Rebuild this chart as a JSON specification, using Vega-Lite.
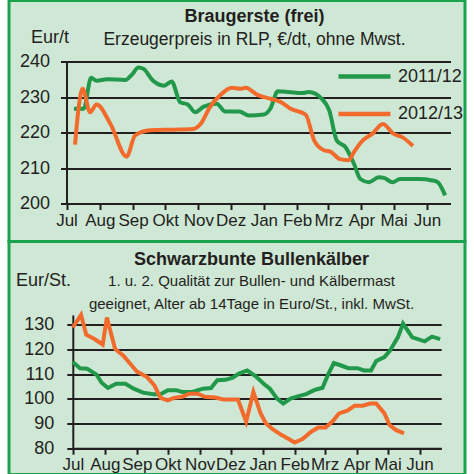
{
  "$schema": "https://vega.github.io/schema/vega-lite/v6.json",
  "background": "white",
  "padding": {"left": 7, "top": -1.5, "right": 8, "bottom": -1.5},
  "spacing": 0,
  "bounds": "flush",
  "config": {
    "font": "Liberation Sans",
    "view": {"fill": "#cfe7d5", "stroke": "#1ba24f", "strokeWidth": 3},
    "axis": {"labelColor": "#231f20", "titleColor": "#231f20", "domainColor": "#231f20", "domainWidth": 2, "tickColor": "#231f20", "tickWidth": 2, "gridColor": "#231f20", "gridWidth": 1.8, "labelFont": "Liberation Sans", "titleFont": "Liberation Sans"},
    "legend": {"labelColor": "#231f20", "labelFont": "Liberation Sans", "padding": 0},
    "title": {"color": "#231f20", "subtitleColor": "#231f20", "font": "Liberation Sans", "subtitleFont": "Liberation Sans"}
  },
  "datasets": {
    "braugerste": [
      {"date": "2011-07-08T00:00", "value": 226.7, "season": "2011/12"},
      {"date": "2011-07-17T00:00", "value": 226.7, "season": "2011/12"},
      {"date": "2011-07-24T00:00", "value": 235.4, "season": "2011/12"},
      {"date": "2011-07-29T00:00", "value": 234.6, "season": "2011/12"},
      {"date": "2011-08-08T00:00", "value": 235.0, "season": "2011/12"},
      {"date": "2011-08-25T00:00", "value": 234.8, "season": "2011/12"},
      {"date": "2011-08-31T00:00", "value": 236.3, "season": "2011/12"},
      {"date": "2011-09-06T00:00", "value": 238.3, "season": "2011/12"},
      {"date": "2011-09-11T00:00", "value": 237.9, "season": "2011/12"},
      {"date": "2011-09-19T00:00", "value": 234.8, "season": "2011/12"},
      {"date": "2011-09-30T00:00", "value": 233.2, "season": "2011/12"},
      {"date": "2011-10-07T00:00", "value": 234.4, "season": "2011/12"},
      {"date": "2011-10-15T00:00", "value": 228.5, "season": "2011/12"},
      {"date": "2011-10-22T00:00", "value": 227.9, "season": "2011/12"},
      {"date": "2011-10-29T00:00", "value": 225.7, "season": "2011/12"},
      {"date": "2011-11-06T00:00", "value": 227.3, "season": "2011/12"},
      {"date": "2011-11-18T00:00", "value": 228.1, "season": "2011/12"},
      {"date": "2011-11-26T00:00", "value": 225.9, "season": "2011/12"},
      {"date": "2011-12-09T00:00", "value": 225.9, "season": "2011/12"},
      {"date": "2011-12-18T00:00", "value": 224.8, "season": "2011/12"},
      {"date": "2012-01-01T00:00", "value": 225.1, "season": "2011/12"},
      {"date": "2012-01-07T00:00", "value": 226.7, "season": "2011/12"},
      {"date": "2012-01-14T00:00", "value": 231.6, "season": "2011/12"},
      {"date": "2012-01-24T00:00", "value": 231.4, "season": "2011/12"},
      {"date": "2012-02-06T00:00", "value": 231.1, "season": "2011/12"},
      {"date": "2012-02-12T00:00", "value": 231.4, "season": "2011/12"},
      {"date": "2012-02-24T00:00", "value": 229.5, "season": "2011/12"},
      {"date": "2012-03-02T00:00", "value": 226.2, "season": "2011/12"},
      {"date": "2012-03-09T00:00", "value": 217.7, "season": "2011/12"},
      {"date": "2012-03-17T00:00", "value": 215.9, "season": "2011/12"},
      {"date": "2012-03-25T00:00", "value": 211.2, "season": "2011/12"},
      {"date": "2012-03-31T00:00", "value": 206.9, "season": "2011/12"},
      {"date": "2012-04-08T00:00", "value": 206.0, "season": "2011/12"},
      {"date": "2012-04-17T00:00", "value": 207.4, "season": "2011/12"},
      {"date": "2012-04-22T00:00", "value": 207.2, "season": "2011/12"},
      {"date": "2012-04-30T00:00", "value": 206.0, "season": "2011/12"},
      {"date": "2012-05-07T00:00", "value": 206.9, "season": "2011/12"},
      {"date": "2012-05-24T00:00", "value": 206.9, "season": "2011/12"},
      {"date": "2012-06-06T00:00", "value": 206.5, "season": "2011/12"},
      {"date": "2012-06-11T00:00", "value": 206.0, "season": "2011/12"},
      {"date": "2012-06-18T00:00", "value": 202.3, "season": "2011/12"},
      {"date": "2011-07-09T00:00", "value": 216.6, "season": "2012/13"},
      {"date": "2011-07-12T00:00", "value": 226.2, "season": "2012/13"},
      {"date": "2011-07-16T00:00", "value": 232.3, "season": "2012/13"},
      {"date": "2011-07-23T00:00", "value": 225.7, "season": "2012/13"},
      {"date": "2011-07-29T00:00", "value": 227.9, "season": "2012/13"},
      {"date": "2011-08-11T00:00", "value": 222.4, "season": "2012/13"},
      {"date": "2011-08-26T00:00", "value": 213.2, "season": "2012/13"},
      {"date": "2011-09-03T00:00", "value": 219.2, "season": "2012/13"},
      {"date": "2011-09-17T00:00", "value": 220.6, "season": "2012/13"},
      {"date": "2011-10-09T00:00", "value": 220.8, "season": "2012/13"},
      {"date": "2011-10-27T00:00", "value": 221.0, "season": "2012/13"},
      {"date": "2011-11-03T00:00", "value": 222.4, "season": "2012/13"},
      {"date": "2011-11-12T00:00", "value": 227.3, "season": "2012/13"},
      {"date": "2011-11-21T00:00", "value": 230.4, "season": "2012/13"},
      {"date": "2011-12-02T00:00", "value": 232.6, "season": "2012/13"},
      {"date": "2011-12-10T00:00", "value": 232.3, "season": "2012/13"},
      {"date": "2011-12-15T00:00", "value": 232.6, "season": "2012/13"},
      {"date": "2011-12-26T00:00", "value": 230.6, "season": "2012/13"},
      {"date": "2012-01-07T00:00", "value": 229.5, "season": "2012/13"},
      {"date": "2012-01-16T00:00", "value": 228.7, "season": "2012/13"},
      {"date": "2012-01-26T00:00", "value": 226.7, "season": "2012/13"},
      {"date": "2012-02-09T00:00", "value": 225.0, "season": "2012/13"},
      {"date": "2012-02-17T00:00", "value": 217.7, "season": "2012/13"},
      {"date": "2012-02-26T00:00", "value": 215.0, "season": "2012/13"},
      {"date": "2012-03-03T00:00", "value": 214.6, "season": "2012/13"},
      {"date": "2012-03-12T00:00", "value": 212.5, "season": "2012/13"},
      {"date": "2012-03-20T00:00", "value": 212.2, "season": "2012/13"},
      {"date": "2012-03-25T00:00", "value": 214.5, "season": "2012/13"},
      {"date": "2012-04-02T00:00", "value": 217.7, "season": "2012/13"},
      {"date": "2012-04-11T00:00", "value": 219.6, "season": "2012/13"},
      {"date": "2012-04-21T00:00", "value": 222.4, "season": "2012/13"},
      {"date": "2012-05-01T00:00", "value": 219.6, "season": "2012/13"},
      {"date": "2012-05-09T00:00", "value": 218.7, "season": "2012/13"},
      {"date": "2012-05-19T00:00", "value": 216.2, "season": "2012/13"}
    ],
    "kaelber": [
      {"date": "2011-07-01T00:00", "value": 114.9, "season": "2011/12"},
      {"date": "2011-07-08T00:00", "value": 112.4, "season": "2011/12"},
      {"date": "2011-07-15T00:00", "value": 112.2, "season": "2011/12"},
      {"date": "2011-07-24T00:00", "value": 109.8, "season": "2011/12"},
      {"date": "2011-07-29T00:00", "value": 106.5, "season": "2011/12"},
      {"date": "2011-08-04T00:00", "value": 104.4, "season": "2011/12"},
      {"date": "2011-08-12T00:00", "value": 106.1, "season": "2011/12"},
      {"date": "2011-08-21T00:00", "value": 106.1, "season": "2011/12"},
      {"date": "2011-08-29T00:00", "value": 104.1, "season": "2011/12"},
      {"date": "2011-09-07T00:00", "value": 102.5, "season": "2011/12"},
      {"date": "2011-09-17T00:00", "value": 101.9, "season": "2011/12"},
      {"date": "2011-09-24T00:00", "value": 101.9, "season": "2011/12"},
      {"date": "2011-10-01T00:00", "value": 103.5, "season": "2011/12"},
      {"date": "2011-10-09T00:00", "value": 103.5, "season": "2011/12"},
      {"date": "2011-10-15T00:00", "value": 102.8, "season": "2011/12"},
      {"date": "2011-10-25T00:00", "value": 102.8, "season": "2011/12"},
      {"date": "2011-11-04T00:00", "value": 104.1, "season": "2011/12"},
      {"date": "2011-11-12T00:00", "value": 104.4, "season": "2011/12"},
      {"date": "2011-11-18T00:00", "value": 107.5, "season": "2011/12"},
      {"date": "2011-11-26T00:00", "value": 107.7, "season": "2011/12"},
      {"date": "2011-12-03T00:00", "value": 108.6, "season": "2011/12"},
      {"date": "2011-12-09T00:00", "value": 110.2, "season": "2011/12"},
      {"date": "2011-12-17T00:00", "value": 111.5, "season": "2011/12"},
      {"date": "2011-12-25T00:00", "value": 109.2, "season": "2011/12"},
      {"date": "2012-01-02T00:00", "value": 106.1, "season": "2011/12"},
      {"date": "2012-01-08T00:00", "value": 104.1, "season": "2011/12"},
      {"date": "2012-01-15T00:00", "value": 100.1, "season": "2011/12"},
      {"date": "2012-01-21T00:00", "value": 98.1, "season": "2011/12"},
      {"date": "2012-01-28T00:00", "value": 100.1, "season": "2011/12"},
      {"date": "2012-02-04T00:00", "value": 101.0, "season": "2011/12"},
      {"date": "2012-02-12T00:00", "value": 101.9, "season": "2011/12"},
      {"date": "2012-02-21T00:00", "value": 103.7, "season": "2011/12"},
      {"date": "2012-02-28T00:00", "value": 104.5, "season": "2011/12"},
      {"date": "2012-03-04T00:00", "value": 109.5, "season": "2011/12"},
      {"date": "2012-03-10T00:00", "value": 114.5, "season": "2011/12"},
      {"date": "2012-03-17T00:00", "value": 113.5, "season": "2011/12"},
      {"date": "2012-03-24T00:00", "value": 112.4, "season": "2011/12"},
      {"date": "2012-04-02T00:00", "value": 112.4, "season": "2011/12"},
      {"date": "2012-04-08T00:00", "value": 111.5, "season": "2011/12"},
      {"date": "2012-04-15T00:00", "value": 111.5, "season": "2011/12"},
      {"date": "2012-04-20T00:00", "value": 115.3, "season": "2011/12"},
      {"date": "2012-04-28T00:00", "value": 116.9, "season": "2011/12"},
      {"date": "2012-05-03T00:00", "value": 119.3, "season": "2011/12"},
      {"date": "2012-05-11T00:00", "value": 124.9, "season": "2011/12"},
      {"date": "2012-05-16T00:00", "value": 130.5, "season": "2011/12"},
      {"date": "2012-05-25T00:00", "value": 124.9, "season": "2011/12"},
      {"date": "2012-06-06T00:00", "value": 123.3, "season": "2011/12"},
      {"date": "2012-06-13T00:00", "value": 125.2, "season": "2011/12"},
      {"date": "2012-06-21T00:00", "value": 124.2, "season": "2011/12"},
      {"date": "2011-07-01T00:00", "value": 128.9, "season": "2012/13"},
      {"date": "2011-07-09T00:00", "value": 134.0, "season": "2012/13"},
      {"date": "2011-07-14T00:00", "value": 126.0, "season": "2012/13"},
      {"date": "2011-07-22T00:00", "value": 124.2, "season": "2012/13"},
      {"date": "2011-07-30T00:00", "value": 122.0, "season": "2012/13"},
      {"date": "2011-08-03T00:00", "value": 132.9, "season": "2012/13"},
      {"date": "2011-08-11T00:00", "value": 120.2, "season": "2012/13"},
      {"date": "2011-08-19T00:00", "value": 117.5, "season": "2012/13"},
      {"date": "2011-09-01T00:00", "value": 111.1, "season": "2012/13"},
      {"date": "2011-09-11T00:00", "value": 108.8, "season": "2012/13"},
      {"date": "2011-09-18T00:00", "value": 105.5, "season": "2012/13"},
      {"date": "2011-09-24T00:00", "value": 100.4, "season": "2012/13"},
      {"date": "2011-10-01T00:00", "value": 99.4, "season": "2012/13"},
      {"date": "2011-10-07T00:00", "value": 100.4, "season": "2012/13"},
      {"date": "2011-10-15T00:00", "value": 100.8, "season": "2012/13"},
      {"date": "2011-10-22T00:00", "value": 102.1, "season": "2012/13"},
      {"date": "2011-10-30T00:00", "value": 102.1, "season": "2012/13"},
      {"date": "2011-11-06T00:00", "value": 100.8, "season": "2012/13"},
      {"date": "2011-11-16T00:00", "value": 100.5, "season": "2012/13"},
      {"date": "2011-11-24T00:00", "value": 99.7, "season": "2012/13"},
      {"date": "2011-12-08T00:00", "value": 99.7, "season": "2012/13"},
      {"date": "2011-12-16T00:00", "value": 90.7, "season": "2012/13"},
      {"date": "2011-12-23T00:00", "value": 102.8, "season": "2012/13"},
      {"date": "2011-12-30T00:00", "value": 94.1, "season": "2012/13"},
      {"date": "2012-01-04T00:00", "value": 90.1, "season": "2012/13"},
      {"date": "2012-01-11T00:00", "value": 87.6, "season": "2012/13"},
      {"date": "2012-01-19T00:00", "value": 85.4, "season": "2012/13"},
      {"date": "2012-01-25T00:00", "value": 84.0, "season": "2012/13"},
      {"date": "2012-02-01T00:00", "value": 82.3, "season": "2012/13"},
      {"date": "2012-02-09T00:00", "value": 83.8, "season": "2012/13"},
      {"date": "2012-02-17T00:00", "value": 86.7, "season": "2012/13"},
      {"date": "2012-02-24T00:00", "value": 88.4, "season": "2012/13"},
      {"date": "2012-03-02T00:00", "value": 88.4, "season": "2012/13"},
      {"date": "2012-03-09T00:00", "value": 91.0, "season": "2012/13"},
      {"date": "2012-03-15T00:00", "value": 94.1, "season": "2012/13"},
      {"date": "2012-03-23T00:00", "value": 95.2, "season": "2012/13"},
      {"date": "2012-03-30T00:00", "value": 97.2, "season": "2012/13"},
      {"date": "2012-04-07T00:00", "value": 97.2, "season": "2012/13"},
      {"date": "2012-04-14T00:00", "value": 98.1, "season": "2012/13"},
      {"date": "2012-04-20T00:00", "value": 98.1, "season": "2012/13"},
      {"date": "2012-04-28T00:00", "value": 94.1, "season": "2012/13"},
      {"date": "2012-05-03T00:00", "value": 89.4, "season": "2012/13"},
      {"date": "2012-05-09T00:00", "value": 87.4, "season": "2012/13"},
      {"date": "2012-05-17T00:00", "value": 86.0, "season": "2012/13"}
    ]
  },
  "vconcat": [
    {
      "width": 456,
      "height": 241,
      "title": {"text": "Braugerste (frei)", "subtitle": "Erzeugerpreis in RLP, €/dt, ohne Mwst.", "anchor": "middle", "frame": "group", "dx": 17.5, "offset": -48, "fontSize": 18, "fontWeight": "bold", "subtitleFontSize": 17.5, "subtitlePadding": 5},
      "data": {"name": "braugerste"},
      "mark": {"type": "line", "interpolate": "monotone", "strokeWidth": 4},
      "encoding": {
        "x": {
          "field": "date", "type": "temporal",
          "scale": {"domain": [{"year": 2011, "month": 7, "date": 1}, {"year": 2012, "month": 6, "date": 23}], "range": [57.5, 441.5], "nice": false},
          "axis": {
            "orient": "bottom", "offset": -38, "title": null, "grid": false,
            "values": [{"year": 2011, "month": 7, "date": 1}, {"year": 2011, "month": 8, "date": 1}, {"year": 2011, "month": 9, "date": 1}, {"year": 2011, "month": 10, "date": 1}, {"year": 2011, "month": 11, "date": 1}, {"year": 2011, "month": 12, "date": 1}, {"year": 2012, "month": 1, "date": 1}, {"year": 2012, "month": 2, "date": 1}, {"year": 2012, "month": 3, "date": 1}, {"year": 2012, "month": 4, "date": 1}, {"year": 2012, "month": 5, "date": 1}, {"year": 2012, "month": 6, "date": 1}],
            "labelExpr": "['Jan','Feb','Mrz','Apr','Mai','Jun','Jul','Aug','Sep','Okt','Nov','Dez'][month(datum.value)]",
            "tickSize": 6, "labelFontSize": 17, "labelPadding": 3, "labelFlush": false, "labelOverlap": false, "labelBound": false, "labelAlign": "center", "labelBaseline": "top"
          }
        },
        "y": {
          "field": "value", "type": "quantitative",
          "scale": {"domain": [200, 240], "range": [203, 61], "zero": false, "nice": false},
          "axis": {
            "offset": -57.5, "values": [200, 210, 220, 230, 240], "grid": true, "tickSize": 6, "labelFontSize": 18, "labelPadding": 11, "labelFlush": false, "labelOverlap": false, "labelBound": false,
            "title": "Eur/t", "titleAngle": 0, "titleAlign": "left", "titleBaseline": "middle", "titleX": -36, "titleY": 37, "titleFontSize": 18, "titleFontWeight": "normal"
          }
        },
        "color": {
          "field": "season", "type": "nominal",
          "scale": {"domain": ["2011/12", "2012/13"], "range": ["#22994a", "#f26a2c"]},
          "legend": {"title": null, "orient": "none", "legendX": 327, "legendY": 66, "direction": "vertical", "symbolType": "stroke", "symbolSize": 2704, "symbolStrokeWidth": 4.5, "labelFontSize": 18, "labelOffset": 5, "clipHeight": 20, "rowPadding": 17.5}
        }
      }
    },
    {
      "width": 456,
      "height": 233,
      "title": {"text": "Schwarzbunte Bullenkälber", "subtitle": ["1. u. 2. Qualität zur Bullen- und Kälbermast", "geeignet, Alter ab 14Tage in Euro/St.,  inkl. MwSt."], "anchor": "middle", "frame": "group", "dx": 14.5, "offset": -70, "fontSize": 18, "fontWeight": "bold", "subtitleFontSize": 15, "subtitleLineHeight": 23, "subtitlePadding": 5},
      "data": {"name": "kaelber"},
      "mark": {"type": "line", "strokeWidth": 4},
      "encoding": {
        "x": {
          "field": "date", "type": "temporal",
          "scale": {"domain": [{"year": 2011, "month": 7, "date": 1}, {"year": 2012, "month": 6, "date": 22}], "range": [63.8, 432.2], "nice": false},
          "axis": {
            "orient": "bottom", "offset": -26.3, "title": null, "grid": false,
            "values": [{"year": 2011, "month": 7, "date": 1}, {"year": 2011, "month": 8, "date": 1}, {"year": 2011, "month": 9, "date": 1}, {"year": 2011, "month": 10, "date": 1}, {"year": 2011, "month": 11, "date": 1}, {"year": 2011, "month": 12, "date": 1}, {"year": 2012, "month": 1, "date": 1}, {"year": 2012, "month": 2, "date": 1}, {"year": 2012, "month": 3, "date": 1}, {"year": 2012, "month": 4, "date": 1}, {"year": 2012, "month": 5, "date": 1}, {"year": 2012, "month": 6, "date": 1}],
            "labelExpr": "['Jan','Feb','Mrz','Apr','Mai','Jun','Jul','Aug','Sep','Okt','Nov','Dez'][month(datum.value)]",
            "tickSize": 6, "labelFontSize": 17, "labelPadding": 2, "labelFlush": false, "labelOverlap": false, "labelBound": false, "labelAlign": "center", "labelBaseline": "top"
          }
        },
        "y": {
          "field": "value", "type": "quantitative",
          "scale": {"domain": [80, 134], "range": [206.7, 73.4], "zero": false, "nice": false},
          "axis": {
            "offset": -63.8, "values": [80, 90, 100, 110, 120, 130], "grid": true, "tickSize": 6, "labelFontSize": 18, "labelPadding": 13, "labelFlush": false, "labelOverlap": false, "labelBound": false,
            "title": "Eur/St.", "titleAngle": 0, "titleAlign": "left", "titleBaseline": "middle", "titleX": -57.3, "titleY": 39, "titleFontSize": 18, "titleFontWeight": "normal"
          }
        },
        "color": {
          "field": "season", "type": "nominal",
          "scale": {"domain": ["2011/12", "2012/13"], "range": ["#41ad49", "#f0652b"]},
          "legend": {"title": null, "orient": "none", "legendX": 120, "legendY": 88, "direction": "horizontal", "symbolType": "stroke", "symbolSize": 2916, "symbolStrokeWidth": 4.5, "labelFontSize": 18, "labelOffset": 4, "clipHeight": 20, "columnPadding": 4}
        }
      }
    }
  ]
}
